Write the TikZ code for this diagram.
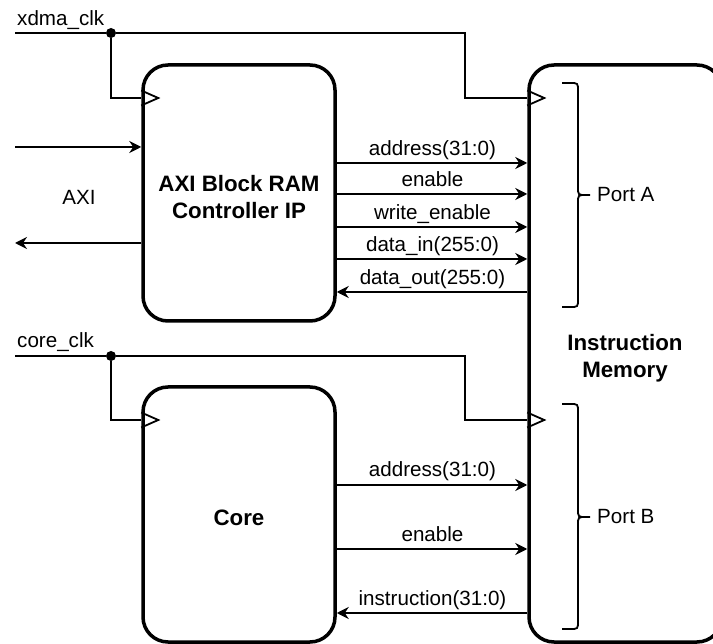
\documentclass[tikz,border=0pt]{standalone}
\usepackage{fontspec}
\setmainfont{Liberation Sans}
\usetikzlibrary{arrows.meta}
\tikzset{
  x=1pt, y=-1pt,
  block/.style={draw, line width=3.5pt, rounded corners=25pt, inner sep=0pt,
    align=center, font=\fontsize{22.3}{26.5}\selectfont\bfseries},
  wire/.style={line width=1.8pt},
  sig/.style={wire, -{Stealth[length=12pt,width=12pt,inset=4pt]}},
  txt/.style={inner sep=0pt, font=\fontsize{20.6}{24.7}\selectfont},
  sigtxt/.style={txt, anchor=base},
  dot/.style={circle, fill, inner sep=0pt, minimum size=10pt},
  clk/.style={wire, line join=miter},
  brace/.style={line width=1.8pt},
}
\begin{document}
\begin{tikzpicture}
\useasboundingbox (0,0) rectangle (713,644);

% blocks
\node[block, minimum width=192pt, minimum height=256pt] (axi) at (239,193) {};
\node[block, minimum width=192pt, minimum height=255pt] (core) at (239,514.5) {};
\node[block, minimum width=193pt, minimum height=577pt] (mem) at (625.5,353.5) {};
\node[txt, font=\fontsize{22.3}{26.5}\selectfont\bfseries, align=center] (axit) at (239,197) {AXI Block RAM\\Controller IP};
\node[txt, font=\fontsize{22.3}{26.5}\selectfont\bfseries] (coret) at (239,518) {Core};
\node[txt, font=\fontsize{22.3}{26.5}\selectfont\bfseries, align=center] (memt) at (625,358) {Instruction\\Memory};

% clock nets
\coordinate (xin) at (15,33);
\node[dot] (xd) at (111,33) {};
\coordinate (xturn) at (465,33);
\draw[wire] (xin) -- (xd) -- (xturn) |- (mem.west |- 0,98);
\draw[wire] (xd) |- (axi.west |- 0,98);
\node[txt, anchor=base west] (xlbl) at (17,25.5) {xdma\_clk};

\coordinate (cin) at (15,356);
\node[dot] (cd) at (111,356) {};
\coordinate (cturn) at (465,356);
\draw[wire] (cin) -- (cd) -- (cturn) |- (mem.west |- 0,420);
\draw[wire] (cd) |- (core.west |- 0,420);
\node[txt, anchor=base west] (clbl) at (17,347.5) {core\_clk};

% clock input markers
\draw[clk] (axi.west |- 0,90.5) -- ++(17,7.5) -- ++(-17,7.5);
\draw[clk] (mem.west |- 0,90.5) -- ++(17,7.5) -- ++(-17,7.5);
\draw[clk] (core.west |- 0,412.5) -- ++(17,7.5) -- ++(-17,7.5);
\draw[clk] (mem.west |- 0,412.5) -- ++(17,7.5) -- ++(-17,7.5);

% AXI bus
\coordinate (axiin) at (15,147);
\coordinate (axiout) at (15,243);
\draw[sig] (axiin) -- (axi.west |- 0,147);
\draw[sig] (axi.west |- 0,243) -- (axiout);
\node[txt] (axilbl) at (79,197) {AXI};

% port A signals
\draw[sig] (axi.east |- 0,163) -- (mem.west |- 0,163);
\draw[sig] (axi.east |- 0,194) -- (mem.west |- 0,194);
\draw[sig] (axi.east |- 0,227) -- (mem.west |- 0,227);
\draw[sig] (axi.east |- 0,259) -- (mem.west |- 0,259);
\draw[sig] (mem.west |- 0,292) -- (axi.east |- 0,292);
\node[sigtxt] at (432.5,156) {address(31:0)};
\node[sigtxt] at (432.5,187) {enable};
\node[sigtxt] at (432.5,220) {write\_enable};
\node[sigtxt] at (432.5,252) {data\_in(255:0)};
\node[sigtxt] at (432.5,284.5) {data\_out(255:0)};

% port B signals
\draw[sig] (core.east |- 0,485) -- (mem.west |- 0,485);
\draw[sig] (core.east |- 0,549) -- (mem.west |- 0,549);
\draw[sig] (mem.west |- 0,613) -- (core.east |- 0,613);
\node[sigtxt] at (432.5,477) {address(31:0)};
\node[sigtxt] at (432.5,541.5) {enable};
\node[sigtxt] at (432.5,605.5) {instruction(31:0)};

% port braces
\draw[brace] (562,83) -- (570,83) .. controls (578,83) .. (578,91)
  -- (578,187) .. controls (578,195) .. (586,195) -- (590,195);
\draw[brace] (586,195) .. controls (578,195) .. (578,203)
  -- (578,299) .. controls (578,307) .. (570,307) -- (562,307);
\node[txt, anchor=west] (pa) at (597,195) {Port A};

\draw[brace] (562,404) -- (570,404) .. controls (578,404) .. (578,412)
  -- (578,509) .. controls (578,517) .. (586,517) -- (590,517);
\draw[brace] (586,517) .. controls (578,517) .. (578,525)
  -- (578,621) .. controls (578,629) .. (570,629) -- (562,629);
\node[txt, anchor=west] (pb) at (597,517) {Port B};
\end{tikzpicture}
\end{document}
